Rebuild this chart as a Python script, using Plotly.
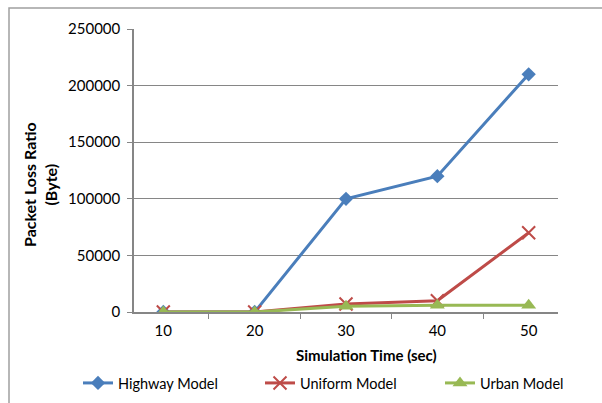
import plotly.graph_objects as go

# Simulation time (sec) categories and packet-loss values per mobility model
sim_time = ["10", "20", "30", "40", "50"]
highway = [0, 0, 100000, 120000, 210000]
uniform = [0, 0, 7000, 10000, 70000]
urban = [0, 0, 5000, 6000, 6000]

FONT = "Lato"
GRID = "#868686"
W, H = 602, 403

fig = go.Figure()
fig.add_trace(go.Scatter(
    x=sim_time, y=highway, name="Highway Model", mode="lines+markers",
    line=dict(color="#4A7EBB", width=3),
    marker=dict(symbol="diamond", size=11, color="#4A7EBB"),
    legend="legend",
))
fig.add_trace(go.Scatter(
    x=sim_time, y=uniform, name="Uniform Model", mode="lines+markers",
    line=dict(color="#BE4B48", width=3),
    marker=dict(symbol="x-thin", size=13, color="#BE4B48",
                line=dict(color="#BE4B48", width=2)),
    legend="legend2",
))
fig.add_trace(go.Scatter(
    x=sim_time, y=urban, name="Urban Model", mode="lines+markers",
    line=dict(color="#98B954", width=3),
    marker=dict(symbol="triangle-up", size=13, color="#98B954"),
    legend="legend3",
))


def legend_at(px):
    # one-entry legend placed at a pixel offset along the bottom row
    return dict(orientation="h", xref="container", yref="container",
                x=px / W, xanchor="left", y=1 - 383 / H, yanchor="middle",
                font=dict(size=14.5), bgcolor="rgba(0,0,0,0)")


fig.update_layout(
    width=W, height=H,
    margin=dict(l=134, r=44, t=29, b=91, autoexpand=False),
    paper_bgcolor="white", plot_bgcolor="white",
    font=dict(family=FONT, size=15, color="#000000"),
    showlegend=True,
    legend=legend_at(78),
    legend2=legend_at(260),
    legend3=legend_at(440),
    xaxis=dict(
        type="category", tickson="boundaries", ticks="outside", ticklen=5,
        tickcolor=GRID, showline=True, linecolor=GRID, linewidth=1.5,
        showgrid=False, zeroline=False, automargin=False, ticklabelstandoff=4,
    ),
    yaxis=dict(
        range=[0, 250000], tickvals=[0, 50000, 100000, 150000, 200000, 250000],
        ticktext=["0", "50000", "100000", "150000", "200000", "250000"],
        ticks="outside", ticklen=5, tickcolor=GRID,
        showgrid=True, gridcolor=GRID, gridwidth=1, ticklabelstandoff=4,
        showline=True, linecolor=GRID, linewidth=1.5, zeroline=False, automargin=False,
    ),
)

# Axis titles
fig.add_annotation(text="<b>Simulation Time (sec)</b>", xref="paper", yref="paper",
                   x=(366 - 134) / 424, y=-(355 - 312) / 283, xanchor="center", yanchor="middle",
                   showarrow=False, font=dict(size=15))
fig.add_annotation(text="<b>Packet Loss Ratio<br>(Byte)</b>", xref="paper", yref="paper",
                   x=-(134 - 40) / 424, y=(312 - 185) / 283, xanchor="center", yanchor="middle",
                   textangle=-90, showarrow=False, font=dict(size=16))

# Chart-area frame
fig.add_shape(type="rect", xref="paper", yref="paper",
              x0=-(134 - 9) / 424, x1=1.2, y0=-0.5, y1=1 + (29 - 8) / 283,
              line=dict(color="#A0A0A0", width=1.5), fillcolor="rgba(0,0,0,0)", layer="below")

fig.write_html("out.html")
